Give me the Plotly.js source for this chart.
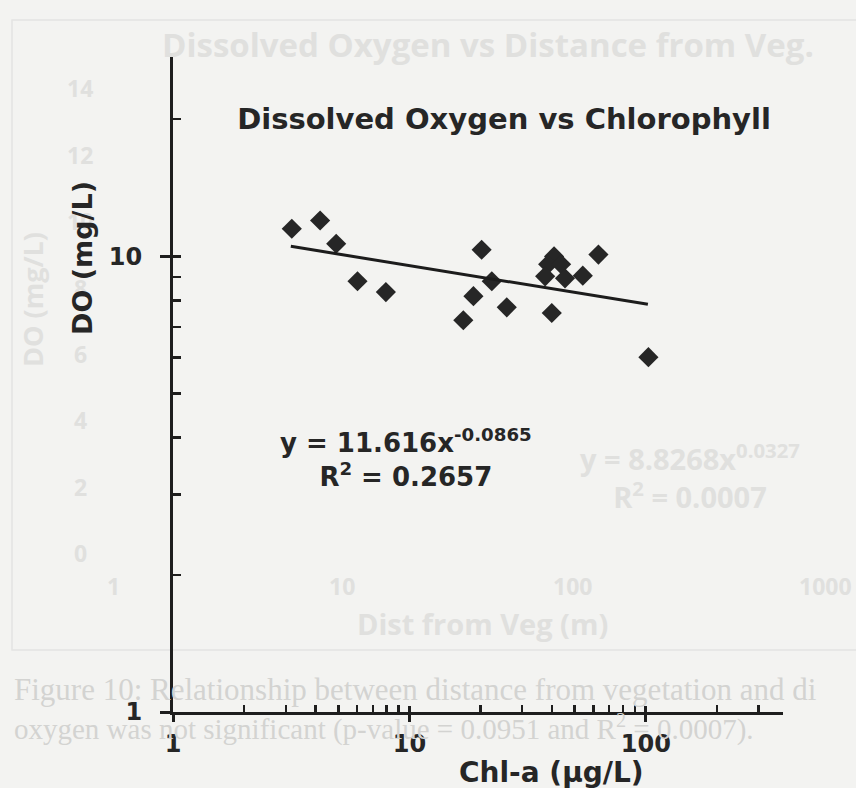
<!DOCTYPE html>
<html>
<head>
<meta charset="utf-8">
<script src="https://cdn.plot.ly/plotly-3.0.1.min.js"></script>
<style>html,body{margin:0;padding:0;background:#f3f3f1;}#chart{width:856px;height:788px;}</style>
</head>
<body>
<div id="chart"></div>
<script>
// Chl-a (µg/L) vs DO (mg/L)
const chlA = [3.18, 4.19, 4.90, 6.03, 7.95, 16.9, 18.65, 20.2, 22.3, 25.8, 40.0, 40.9, 38.6, 43.8, 37.5, 45.5, 54.1, 63.0, 102.5];
const dissolvedO2 = [11.50, 11.99, 10.66, 8.82, 8.35, 7.24, 8.18, 10.34, 8.82, 7.73, 7.51, 10.0, 9.61, 9.61, 9.04, 8.95, 9.07, 10.09, 6.01];
// Power trendline endpoints as drawn in the reference
const trendX = [3.15, 102];
const trendY = [10.52, 7.85];
const xTickVals = [1, 10, 100];
const xTickText = ['1', '10', '100'];
const xMinorVals = [2,3,4,5,6,7,8,9,20,30,40,50,60,70,80,90,200,300];
const yTickVals = [1, 10];
const yTickText = ['1', '10'];
const yMinorVals = [2,3,4,5,6,7,8,9,20];

// Faint bleed-through text from the reverse page of the scan
const ghostYLabels = ['14', '12', '10', '8', '6', '4', '2', '0'];
const ghostXLabels = ['1', '10', '100', '1000'];

const ink = '#262626';
const ghost = '#e0e0de';
const ghostCap = '#d3d3d1';
const FONT = 'DejaVu Sans, Verdana, sans-serif';
const GFONT = 'Open Sans, Lato, sans-serif';

const traces = [
  {x: chlA, y: dissolvedO2, type: 'scatter', mode: 'markers',
   marker: {symbol: 'diamond', size: 15.5, color: ink, line: {width: 0}},
   showlegend: false, hoverinfo: 'skip'},
  {x: trendX, y: trendY, type: 'scatter', mode: 'lines',
   line: {color: '#1c1c1c', width: 3}, showlegend: false, hoverinfo: 'skip'},
  {x: [1], y: [1], xaxis: 'x2', yaxis: 'y2', type: 'scatter', mode: 'markers',
   marker: {opacity: 0}, showlegend: false, hoverinfo: 'skip'}
];

const PL = 173, PR = 783, PT = 55, PB = 712;
const px = v => (v - PL) / (PR - PL);
const py = v => (PB - v) / (PB - PT);

const annotations = [
  {text: 'DO (mg/L)', xref: 'paper', yref: 'paper', x: px(82), y: py(258),
   textangle: -90, showarrow: false, xanchor: 'center', yanchor: 'middle',
   font: {family: FONT, size: 27, color: ink, weight: 'bold'}},
  {text: 'Chl-a (µg/L)', xref: 'paper', yref: 'paper', x: px(551), y: py(772),
   showarrow: false, xanchor: 'center', yanchor: 'middle',
   font: {family: FONT, size: 28, color: ink, weight: 'bold'}},
  {text: 'y = 11.616x<sup>-0.0865</sup><br>R<sup>2</sup> = 0.2657', xref: 'paper', yref: 'paper',
   x: px(406), y: py(458), showarrow: false, xanchor: 'center', yanchor: 'middle', align: 'center',
   font: {family: FONT, size: 26, color: ink, weight: 'bold'}}
];

// ghost texts (under the main chart)
const gAnn = (text, x, y, size, extra) => Object.assign({text, xref: 'paper', yref: 'paper', x: px(x), y: py(y),
  showarrow: false, xanchor: 'center', yanchor: 'middle', font: {family: GFONT, size, color: ghost, weight: 'bold'}}, extra || {});
const ghostAnn = [
  gAnn('Dissolved Oxygen vs Distance from Veg.', 488, 45, 33),
  gAnn('DO (mg/L)', 32, 300, 27, {textangle: -90}),
  gAnn('Dist from Veg (m)', 482, 623, 29),
  gAnn('y = 8.8268x<sup>0.0327</sup><br>R<sup>2</sup> = 0.0007', 690, 476, 29),
];
const ghostYpos = [88, 155, 221, 288, 354, 420, 487, 553];
ghostYLabels.forEach((t, i) => ghostAnn.push(gAnn(t, 80, ghostYpos[i], 23)));
const ghostXpos = [113, 342, 572, 828];
ghostXLabels.forEach((t, i) => ghostAnn.push(gAnn(t, ghostXpos[i], 586, 23,
  i === ghostXLabels.length - 1 ? {xanchor: 'right', x: px(854)} : null)));
ghostAnn.push({text: 'Figure 10: Relationship between distance from vegetation and di', xref: 'paper', yref: 'paper',
  x: px(12), y: py(689), showarrow: false, xanchor: 'left', yanchor: 'middle',
  font: {family: 'Liberation Serif, serif', size: 31, color: ghostCap}});
ghostAnn.push({text: 'oxygen was not significant (p-value = 0.0951 and R<sup>2</sup> = 0.0007).', xref: 'paper', yref: 'paper',
  x: px(12), y: py(727), showarrow: false, xanchor: 'left', yanchor: 'middle',
  font: {family: 'Liberation Serif, serif', size: 29, color: ghostCap}});

const xr = [0, 2.58], yr = [0, 1.442];
const layout = {
  width: 856, height: 788,
  paper_bgcolor: '#f3f3f1', plot_bgcolor: 'rgba(0,0,0,0)',
  margin: {l: PL, r: 856 - PR, t: PT, b: 788 - PB},
  showlegend: false,
  title: {text: 'Dissolved Oxygen vs Chlorophyll', xref: 'paper', x: px(504), xanchor: 'center',
          yref: 'container', y: 1 - 119/788, yanchor: 'middle',
          font: {family: FONT, size: 29, color: ink, weight: 'bold'}},
  shapes: [
    {type: 'rect', xref: 'paper', yref: 'paper', x0: px(12), x1: px(870), y0: py(650), y1: py(20),
     line: {color: '#e4e4e2', width: 1.5}, layer: 'below'}
  ],
  xaxis: {type: 'log', range: xr, showgrid: false, zeroline: false,
          showline: true, linecolor: '#1e1e1e', linewidth: 3,
          tickmode: 'array', tickvals: xTickVals, ticktext: xTickText,
          ticks: 'outside', ticklen: 7, tickwidth: 3, tickcolor: '#1e1e1e',
          ticklabelstandoff: 1,
          tickfont: {family: FONT, size: 24, color: ink, weight: 'bold'},
          minor: {tickmode: 'array', tickvals: xMinorVals, ticks: 'inside', ticklen: 7, tickwidth: 2.5, tickcolor: '#1e1e1e', showgrid: false}},
  yaxis: {type: 'log', range: yr, showgrid: false, zeroline: false,
          showline: true, linecolor: '#1e1e1e', linewidth: 3,
          tickmode: 'array', tickvals: yTickVals, ticktext: yTickText,
          ticks: 'outside', ticklen: 10, tickwidth: 3, tickcolor: '#1e1e1e',
          ticklabelstandoff: 13,
          tickfont: {family: FONT, size: 24, color: ink, weight: 'bold'},
          minor: {tickmode: 'array', tickvals: yMinorVals, ticks: 'inside', ticklen: 8, tickwidth: 2.5, tickcolor: '#1e1e1e', showgrid: false}},
  xaxis2: {type: 'log', range: xr, overlaying: 'x', anchor: 'y', side: 'bottom', showgrid: false, zeroline: false,
           showline: false, tickmode: 'array', tickvals: [10, 100], ticks: 'inside', ticklen: 6, tickwidth: 3,
           tickcolor: '#1e1e1e', showticklabels: false},
  yaxis2: {type: 'log', range: yr, overlaying: 'y', anchor: 'x', side: 'left', showgrid: false, zeroline: false,
           showline: false, tickmode: 'array', tickvals: [10], ticks: 'inside', ticklen: 8, tickwidth: 3,
           tickcolor: '#1e1e1e', showticklabels: false},
  annotations: ghostAnn.concat(annotations)
};

Plotly.newPlot('chart', traces, layout, {staticPlot: true, displayModeBar: false});
</script>
</body>
</html>
